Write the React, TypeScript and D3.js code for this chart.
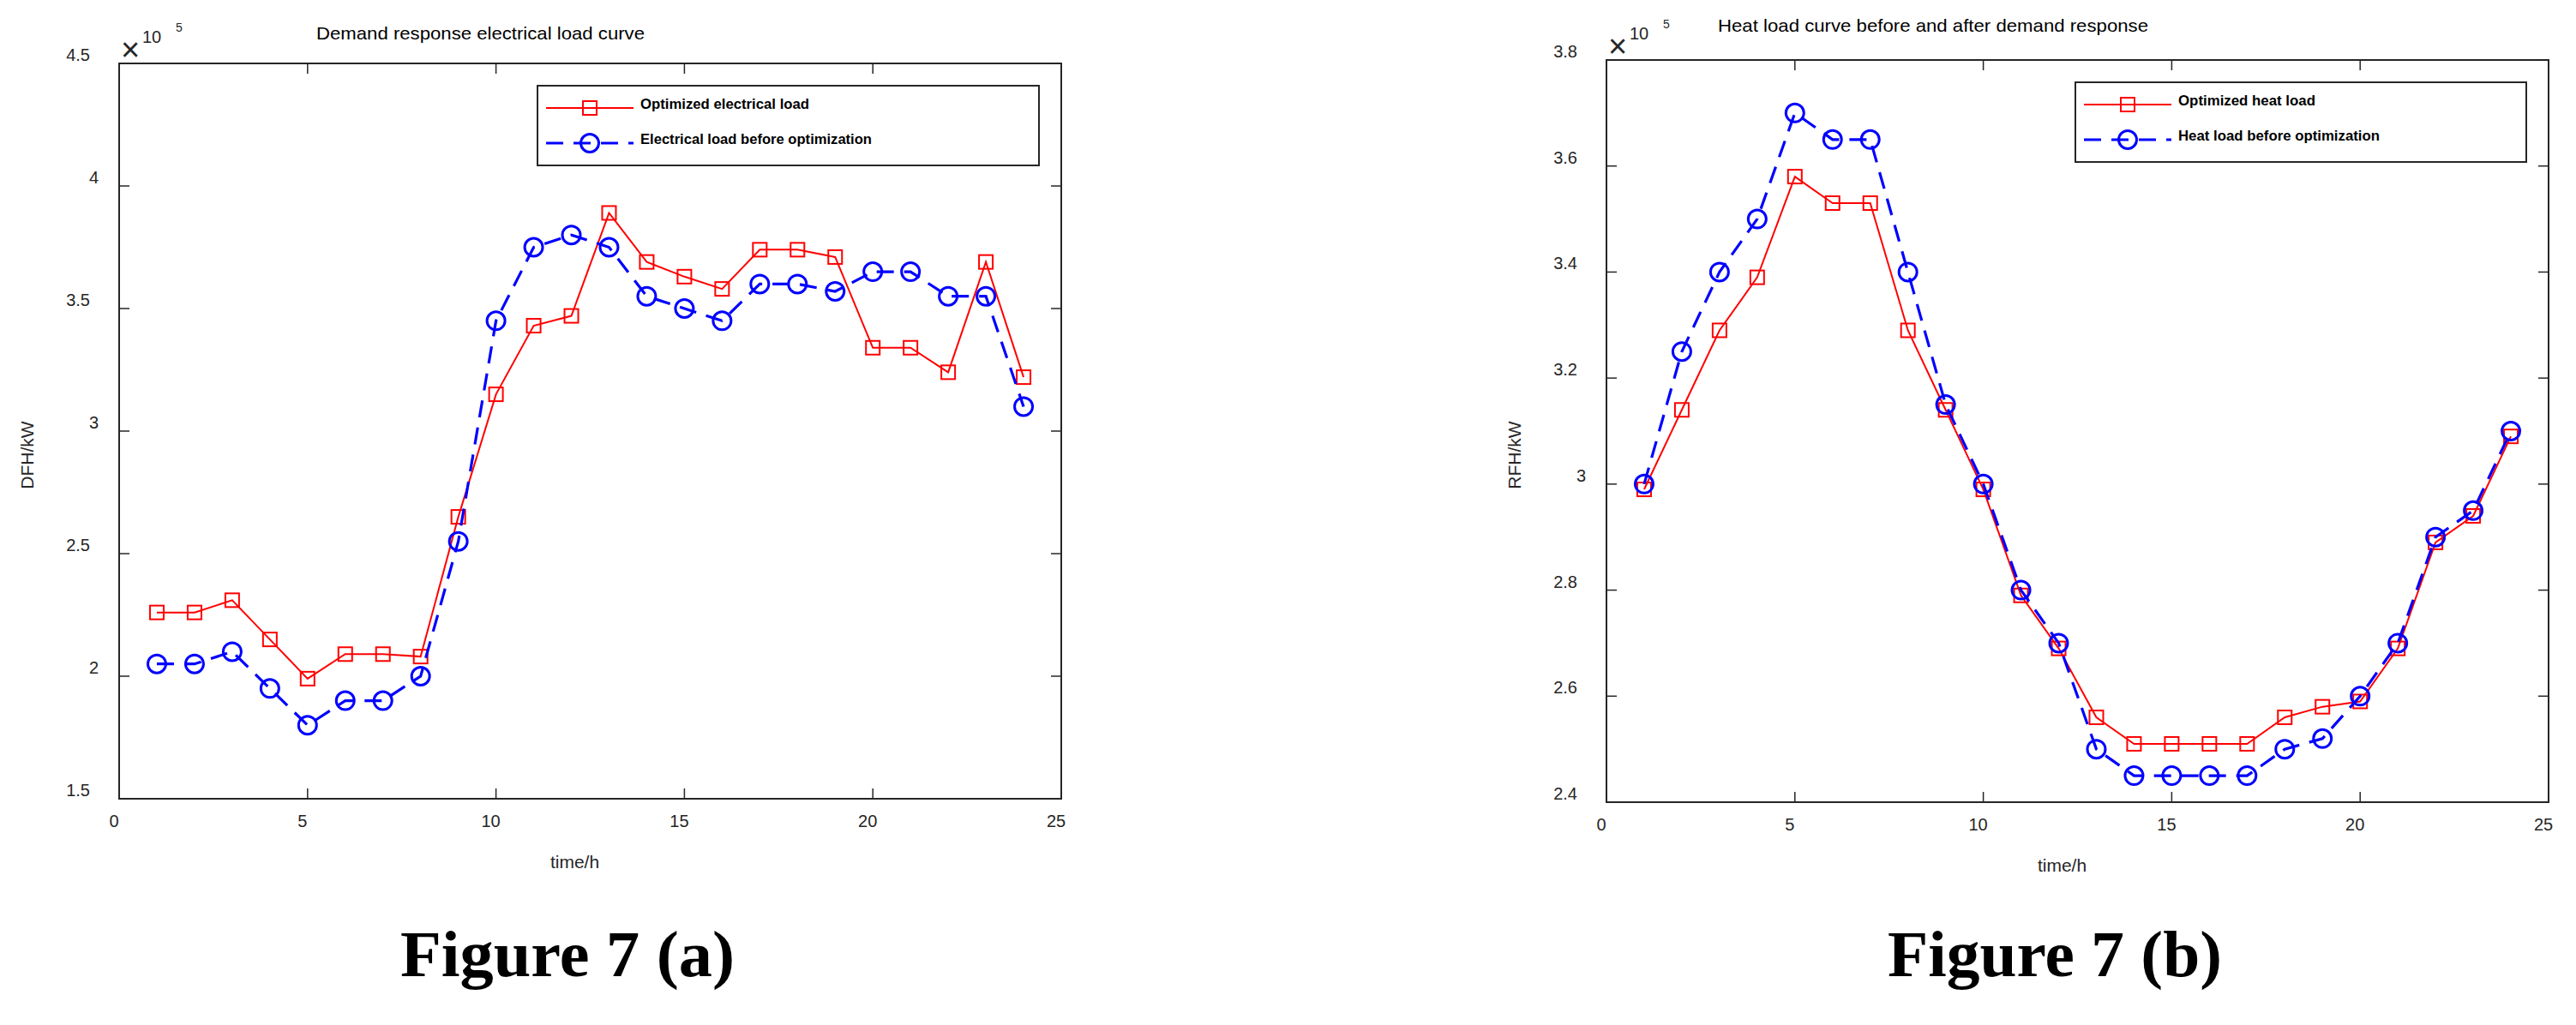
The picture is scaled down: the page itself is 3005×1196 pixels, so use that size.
import React, { useEffect } from 'react';
import * as d3 from 'd3';

// hours of the day (x axis)
const hours = [1, 2, 3, 4, 5, 6, 7, 8, 9, 10, 11, 12, 13, 14, 15, 16, 17, 18, 19, 20, 21, 22, 23, 24];

// electrical load, x10^5 kW
const elecOptimized = [2.26, 2.26, 2.31, 2.15, 1.99, 2.09, 2.09, 2.08, 2.65, 3.15, 3.43, 3.47, 3.89, 3.69, 3.63, 3.58, 3.74, 3.74, 3.71, 3.34, 3.34, 3.24, 3.69, 3.22];
const elecBefore = [2.05, 2.05, 2.1, 1.95, 1.8, 1.9, 1.9, 2.0, 2.55, 3.45, 3.75, 3.8, 3.75, 3.55, 3.5, 3.45, 3.6, 3.6, 3.57, 3.65, 3.65, 3.55, 3.55, 3.1];

// heat load, x10^5 kW
const heatOptimized = [2.99, 3.14, 3.29, 3.39, 3.58, 3.53, 3.53, 3.29, 3.14, 2.99, 2.79, 2.69, 2.56, 2.51, 2.51, 2.51, 2.51, 2.56, 2.58, 2.59, 2.69, 2.89, 2.94, 3.09];
const heatBefore = [3.0, 3.25, 3.4, 3.5, 3.7, 3.65, 3.65, 3.4, 3.15, 3.0, 2.8, 2.7, 2.5, 2.45, 2.45, 2.45, 2.45, 2.5, 2.52, 2.6, 2.7, 2.9, 2.95, 3.1];

const xTicks = [0, 5, 10, 15, 20, 25];
const elecTicks = [1.5, 2, 2.5, 3, 3.5, 4, 4.5];
const heatTicks = [2.4, 2.6, 2.8, 3, 3.2, 3.4, 3.6, 3.8];

const FONT = '"Liberation Sans", Arial, Helvetica, sans-serif';
const AXIS = '#262626';
const RED = '#ff0000';
const BLUE = '#0000ff';

type Box = { left: number; right: number; top: number; bottom: number };

type PanelProps = {
  box: Box;
  yTicks: number[];
  optimized: number[];
  before: number[];
  title: string;
  titleDx: number;
  titleDy: number;
  titleLen: number;
  yLabel: string;
  legendLeft: number;
  legendLabels: [string, string];
  legendLens: [number, number];
  caption: string;
};

const Panel: React.FC<PanelProps> = (p) => {
  const { box } = p;
  const x = d3.scaleLinear().domain([0, 25]).range([box.left, box.right]);
  const y = d3
    .scaleLinear()
    .domain([p.yTicks[0], p.yTicks[p.yTicks.length - 1]])
    .range([box.bottom, box.top]);
  const line = d3
    .line<number>()
    .x((_, i) => x(hours[i]))
    .y((d) => y(d));
  const tick = 12;
  const lg = { x: box.left + p.legendLeft, y: box.top + 26, w: box.right - 26 - (box.left + p.legendLeft), h: 93 };
  const rows = [lg.y + 26, lg.y + 67];

  return (
    <g>
      {/* axes box */}
      <rect
        x={box.left}
        y={box.top}
        width={box.right - box.left}
        height={box.bottom - box.top}
        fill="none"
        stroke={AXIS}
        strokeWidth={2}
      />
      {xTicks.map((t) => (
        <g key={'x' + t}>
          <line x1={x(t)} x2={x(t)} y1={box.bottom} y2={box.bottom - tick} stroke={AXIS} strokeWidth={1.5} />
          <line x1={x(t)} x2={x(t)} y1={box.top} y2={box.top + tick} stroke={AXIS} strokeWidth={1.5} />
          <text
            x={x(t) - 6}
            y={box.bottom + 26}
            textAnchor="middle"
            dominantBaseline="central"
            fontFamily={FONT}
            fontSize={20}
            fill={AXIS}
          >
            {t}
          </text>
        </g>
      ))}
      {p.yTicks.map((t) => {
        const label = String(t);
        const gap = label.includes('.') ? 34 : 24;
        return (
          <g key={'y' + t}>
            <line x1={box.left} x2={box.left + tick} y1={y(t)} y2={y(t)} stroke={AXIS} strokeWidth={1.5} />
            <line x1={box.right} x2={box.right - tick} y1={y(t)} y2={y(t)} stroke={AXIS} strokeWidth={1.5} />
            <text
              x={box.left - gap}
              y={y(t) - 10}
              textAnchor="end"
              dominantBaseline="central"
              fontFamily={FONT}
              fontSize={20}
              fill={AXIS}
            >
              {label}
            </text>
          </g>
        );
      })}

      {/* exponent */}
      <text x={box.left + 13} y={box.top - 16} textAnchor="middle" dominantBaseline="central" fontFamily={FONT} fontSize={38} fill={AXIS}>
        ×
      </text>
      <text x={box.left + 38} y={box.top - 31} textAnchor="middle" dominantBaseline="central" fontFamily={FONT} fontSize={20} fill={AXIS}>
        10
      </text>
      <text x={box.left + 70} y={box.top - 42} textAnchor="middle" dominantBaseline="central" fontFamily={FONT} fontSize={14} fill={AXIS}>
        5
      </text>

      {/* title and axis labels */}
      <text
        x={box.left + p.titleDx}
        y={box.top + p.titleDy}
        fontFamily={FONT}
        fontSize={21}
        fill="#000"
        textLength={p.titleLen}
        lengthAdjust="spacingAndGlyphs"
      >
        {p.title}
      </text>
      <text
        transform={`translate(${box.left - 108},${(box.top + box.bottom) / 2 + 28}) rotate(-90)`}
        textAnchor="middle"
        dominantBaseline="central"
        fontFamily={FONT}
        fontSize={21}
        fill={AXIS}
      >
        {p.yLabel}
      </text>
      <text
        x={(box.left + box.right) / 2 - 18}
        y={box.bottom + 73}
        textAnchor="middle"
        dominantBaseline="central"
        fontFamily={FONT}
        fontSize={21}
        fill={AXIS}
      >
        time/h
      </text>

      {/* optimized series */}
      <path d={line(p.optimized) || ''} fill="none" stroke={RED} strokeWidth={2} />
      {p.optimized.map((v, i) => (
        <rect key={'s' + i} x={x(hours[i]) - 8} y={y(v) - 8} width={16} height={16} fill="none" stroke={RED} strokeWidth={2} />
      ))}

      {/* series before optimization */}
      <path d={line(p.before) || ''} fill="none" stroke={BLUE} strokeWidth={3.2} strokeDasharray="20,12" />
      {p.before.map((v, i) => (
        <circle key={'c' + i} cx={x(hours[i])} cy={y(v)} r={10.5} fill="none" stroke={BLUE} strokeWidth={3} />
      ))}

      {/* legend */}
      <rect x={lg.x} y={lg.y} width={lg.w} height={lg.h} fill="#fff" stroke={AXIS} strokeWidth={2} />
      <line x1={lg.x + 10} x2={lg.x + 112} y1={rows[0]} y2={rows[0]} stroke={RED} strokeWidth={2} />
      <rect x={lg.x + 61 - 8} y={rows[0] - 8} width={16} height={16} fill="none" stroke={RED} strokeWidth={2} />
      <line x1={lg.x + 10} x2={lg.x + 112} y1={rows[1]} y2={rows[1]} stroke={BLUE} strokeWidth={3.2} strokeDasharray="20,12" />
      <circle cx={lg.x + 61} cy={rows[1]} r={10.5} fill="none" stroke={BLUE} strokeWidth={3} />
      {p.legendLabels.map((l, i) => (
        <text
          key={l}
          x={lg.x + 120}
          y={rows[i] - 5}
          dominantBaseline="central"
          fontFamily={FONT}
          fontSize={17}
          fontWeight="bold"
          fill="#000"
          textLength={p.legendLens[i]}
          lengthAdjust="spacingAndGlyphs"
        >
          {l}
        </text>
      ))}

      {/* figure caption */}
      <text
        x={box.left + 523}
        y={1139}
        textAnchor="middle"
        fontFamily='"Liberation Serif", "Times New Roman", serif'
        fontWeight="bold"
        fontSize={76}
        fill="#000"
        textLength={390}
        lengthAdjust="spacingAndGlyphs"
      >
        {p.caption}
      </text>
    </g>
  );
};

const App: React.FC = () => {
  useEffect(() => {
    document.body.style.margin = '0';
  }, []);

  return (
    <svg
      width={3005}
      height={1196}
      viewBox="0 0 3005 1196"
      style={{ position: 'absolute', left: 0, top: 0, background: '#fff', display: 'block' }}
    >
      <rect width={3005} height={1196} fill="#fff" />
      <Panel
        box={{ left: 139, right: 1238, top: 74, bottom: 932 }}
        yTicks={elecTicks}
        optimized={elecOptimized}
        before={elecBefore}
        title="Demand response electrical load curve"
        titleDx={230}
        titleDy={-28}
        titleLen={383}
        yLabel="DFH/kW"
        legendLeft={488}
        legendLabels={['Optimized electrical load', 'Electrical load before optimization']}
        legendLens={[197, 270]}
        caption="Figure 7 (a)"
      />
      <Panel
        box={{ left: 1874, right: 2973, top: 70, bottom: 936 }}
        yTicks={heatTicks}
        optimized={heatOptimized}
        before={heatBefore}
        title="Heat load curve before and after demand response"
        titleDx={130}
        titleDy={-33}
        titleLen={502}
        yLabel="RFH/kW"
        legendLeft={547}
        legendLabels={['Optimized heat load', 'Heat load before optimization']}
        legendLens={[160, 235]}
        caption="Figure 7 (b)"
      />
    </svg>
  );
};

export default App;
